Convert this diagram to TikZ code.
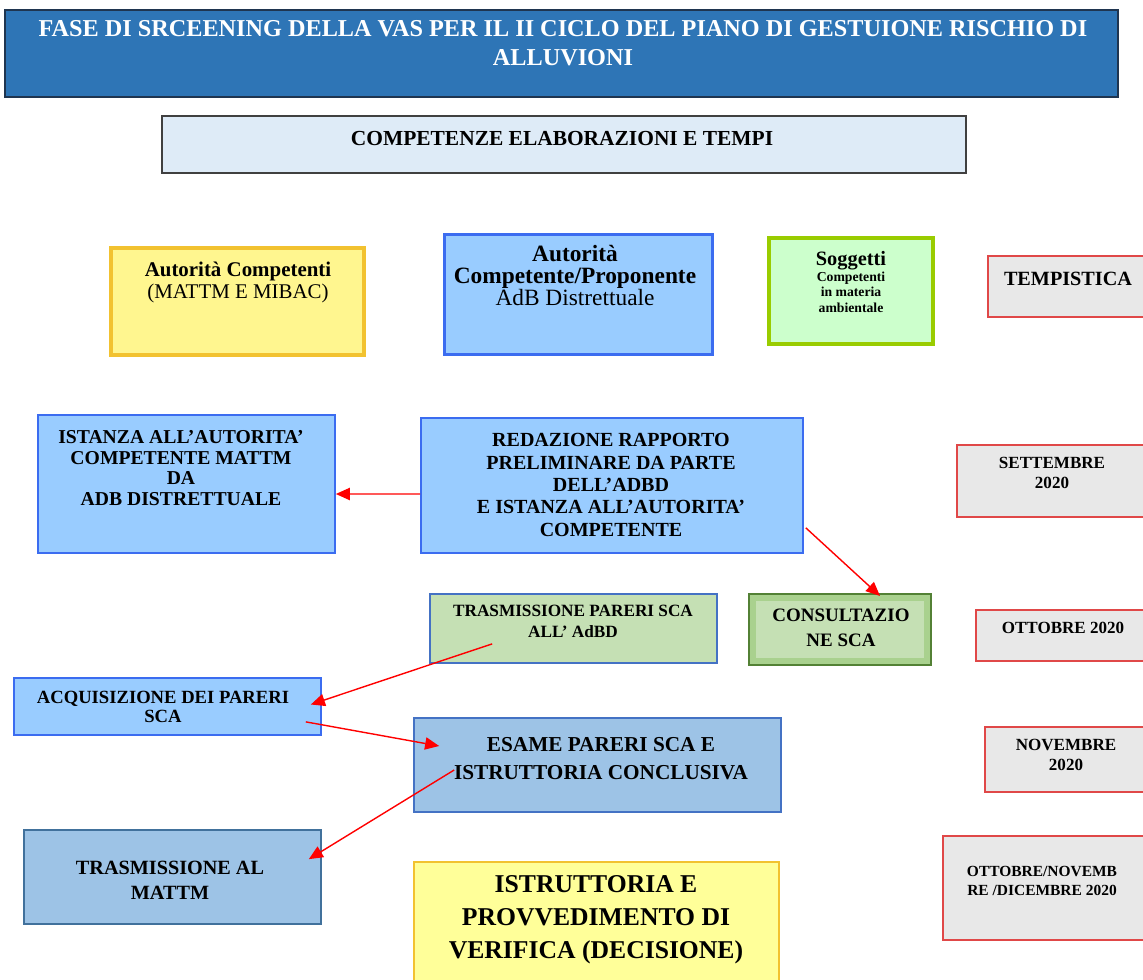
\documentclass[tikz,border=0pt]{standalone}
\usepackage{fontspec}
\setmainfont{Liberation Serif}
\usetikzlibrary{arrows.meta,positioning}
\definecolor{TitleBlue}{HTML}{2E75B6}
\definecolor{TitleEdge}{HTML}{1F3550}
\definecolor{PaleBlue}{HTML}{DEEBF7}
\definecolor{SkyBlue}{HTML}{99CCFF}
\definecolor{SkyEdge}{HTML}{3B6CF0}
\definecolor{SteelBlue}{HTML}{9DC3E6}
\definecolor{SteelEdge}{HTML}{41719C}
\definecolor{MidEdge}{HTML}{4472C4}
\definecolor{PaleYellow}{HTML}{FFF68F}
\definecolor{LemonYellow}{HTML}{FFFF99}
\definecolor{GoldEdge}{HTML}{F2C230}
\definecolor{MintGreen}{HTML}{CCFFCC}
\definecolor{LimeEdge}{HTML}{99CC00}
\definecolor{SageGreen}{HTML}{C5E0B4}
\definecolor{OliveGreen}{HTML}{A9D18E}
\definecolor{OliveEdge}{HTML}{538135}
\definecolor{DateGray}{HTML}{E8E8E8}
\definecolor{DateEdge}{HTML}{E04848}

\begin{document}
\begin{tikzpicture}[x=0.02cm, y=-0.02cm,
    box/.style={draw, rectangle, inner sep=0pt},
    skybox/.style={box, fill=SkyBlue, draw=SkyEdge, line width=1pt},
    datebox/.style={box, fill=DateGray, draw=DateEdge, line width=1pt},
    txt/.style={align=center, inner sep=0pt, font=\bfseries},
    redarrow/.style={-{Triangle[length=8pt,width=7pt]}, red, line width=0.8pt}]
    \useasboundingbox (0,0) rectangle (1143,980);

    % Title bar
    \node[box, fill=TitleBlue, draw=TitleEdge, line width=1pt,
          minimum width=22.26cm, minimum height=1.74cm] (titolo) at (561.5,53.5) {};
    \node[txt, white, font=\fontsize{13.8}{16.4}\selectfont\bfseries] (titoloT) at (563,43)
        {FASE DI SRCEENING DELLA VAS PER IL II CICLO DEL PIANO DI GESTUIONE RISCHIO DI\\ALLUVIONI};

    \node[box, fill=PaleBlue, draw=black!75, line width=1pt,
          minimum width=16.08cm, minimum height=1.14cm] (competenze) at (564,144.5) {};
    \node[txt, font=\fontsize{12.2}{14}\selectfont\bfseries] (competenzeT) at (562,139)
        {COMPETENZE ELABORAZIONI E TEMPI};

    % Header row
    \node[box, fill=PaleYellow, draw=GoldEdge, line width=2pt,
          minimum width=5.06cm, minimum height=2.14cm] (autcomp) at (237.5,301.5) {};
    \node[txt, font=\fontsize{11.9}{12}\selectfont\bfseries] (autcompT) at (238,282.5)
        {Autorità Competenti\\\mdseries(MATTM E MIBAC)};

    \node[box, fill=SkyBlue, draw=SkyEdge, line width=1.7pt,
          minimum width=5.38cm, minimum height=2.42cm] (autprop) at (578.5,294.5) {};
    \node[txt, font=\fontsize{13.3}{12.3}\selectfont\bfseries] (autpropT) at (575,275.5)
        {Autorità\\Competente/Proponente\\\mdseries AdB Distrettuale};

    \node[box, fill=MintGreen, draw=LimeEdge, line width=2pt,
          minimum width=3.28cm, minimum height=2.12cm] (soggetti) at (851,291) {};
    \node[txt, font=\fontsize{7.8}{8.8}\selectfont\bfseries] (soggettiT) at (851,282)
        {{\fontsize{11.6}{12}\selectfont Soggetti}\\Competenti\\in materia\\ambientale};

    \node[datebox, minimum width=3.8cm, minimum height=1.22cm] (tempistica) at (1083,286.5) {};
    \node[txt, font=\fontsize{11.5}{13}\selectfont\bfseries] (tempisticaT) at (1068,279) {TEMPISTICA};

    % Settembre
    \node[skybox, minimum width=5.94cm, minimum height=2.76cm] (istanza) at (186.5,484) {};
    \node[txt, font=\fontsize{11.2}{11.8}\selectfont\bfseries] (istanzaT) at (181,468)
        {ISTANZA ALL’AUTORITA’\\COMPETENTE MATTM\\DA\\ADB DISTRETTUALE};

    \node[skybox, minimum width=7.64cm, minimum height=2.7cm] (redazione) at (612,485.5) {};
    \node[txt, font=\fontsize{11.4}{12.7}\selectfont\bfseries] (redazioneT) at (611,485)
        {REDAZIONE RAPPORTO\\PRELIMINARE DA PARTE\\DELL’ADBD\\E ISTANZA ALL’AUTORITA’\\COMPETENTE};

    \node[datebox, minimum width=4.06cm, minimum height=1.44cm] (settembre) at (1058.5,481) {};
    \node[txt, font=\fontsize{9.7}{11.3}\selectfont\bfseries] (settembreT) at (1052,473) {SETTEMBRE\\2020};

    % Ottobre
    \node[box, fill=SageGreen, draw=MidEdge, line width=1pt,
          minimum width=5.74cm, minimum height=1.38cm] (trasmpareri) at (573.5,628.5) {};
    \node[txt, font=\fontsize{9.8}{11.9}\selectfont\bfseries] (trasmpareriT) at (573,621.5)
        {TRASMISSIONE PARERI SCA\\ALL’ AdBD};

    \node[box, fill=OliveGreen, draw=OliveEdge, line width=1.2pt,
          minimum width=3.64cm, minimum height=1.42cm] (consulta) at (840,629.5) {};
    \node[box, draw=none, fill=SageGreen, minimum width=3.38cm, minimum height=1.16cm] (consultaIn) at (consulta) {};
    \node[txt, font=\fontsize{10.8}{14.2}\selectfont\bfseries] (consultaT) at (841,627.5)
        {CONSULTAZIO\\NE SCA};

    \node[datebox, minimum width=3.68cm, minimum height=1.02cm] (ottobre) at (1068,635.5) {};
    \node[txt, font=\fontsize{9.7}{11.3}\selectfont\bfseries] (ottobreT) at (1063,628) {OTTOBRE 2020};

    % Novembre
    \node[skybox, minimum width=6.14cm, minimum height=1.14cm] (acquis) at (167.5,706.5) {};
    \node[txt, font=\fontsize{10.6}{10.4}\selectfont\bfseries] (acquisT) at (163,707)
        {ACQUISIZIONE DEI PARERI\\SCA};

    \node[box, fill=SteelBlue, draw=MidEdge, line width=1pt,
          minimum width=7.34cm, minimum height=1.88cm] (esame) at (597.5,765) {};
    \node[txt, font=\fontsize{12.1}{15.9}\selectfont\bfseries] (esameT) at (601,759)
        {ESAME PARERI SCA E\\ISTRUTTORIA CONCLUSIVA};

    \node[datebox, minimum width=3.5cm, minimum height=1.3cm] (novembre) at (1072.5,759.5) {};
    \node[txt, font=\fontsize{9.7}{11.3}\selectfont\bfseries] (novembreT) at (1066,755) {NOVEMBRE\\2020};

    % Dicembre
    \node[box, fill=SteelBlue, draw=SteelEdge, line width=1pt,
          minimum width=5.94cm, minimum height=1.88cm] (mattm) at (172.5,877) {};
    \node[txt, font=\fontsize{11.5}{14.2}\selectfont\bfseries] (mattmT) at (170,880.5)
        {TRASMISSIONE AL\\MATTM};

    \node[box, fill=LemonYellow, draw=GoldEdge, line width=1.5pt,
          minimum width=7.3cm, minimum height=2.76cm] (istruttoria) at (596.5,931) {};
    \node[txt, font=\fontsize{14.6}{18.7}\selectfont\bfseries] (istruttoriaT) at (596,920)
        {ISTRUTTORIA E\\PROVVEDIMENTO DI\\VERIFICA (DECISIONE)};

    \node[datebox, minimum width=4.34cm, minimum height=2.08cm] (ottnov) at (1051.5,888) {};
    \node[txt, font=\fontsize{8.8}{10.8}\selectfont\bfseries] (ottnovT) at (1042,880.5)
        {OTTOBRE/NOVEMB\\RE /DICEMBRE 2020};

    % Red connectors
    \draw[redarrow] ([shift={(0,8.5)}]redazione.west) -- ([shift={(0,10)}]istanza.east);
    \draw[redarrow] ([shift={(2,-26)}]redazione.south east) -- ([shift={(40,3)}]consulta.north);
    \draw[redarrow] ([shift={(63,-20)}]trasmpareri.south west) -- ([shift={(-11,-2)}]acquis.east);
    \draw[redarrow] ([shift={(-16,-14)}]acquis.south east) -- ([shift={(26,-19)}]esame.west);
    \draw[redarrow] ([shift={(41,5)}]esame.west) -- ([shift={(-13,30)}]mattm.north east);
\end{tikzpicture}
\end{document}
